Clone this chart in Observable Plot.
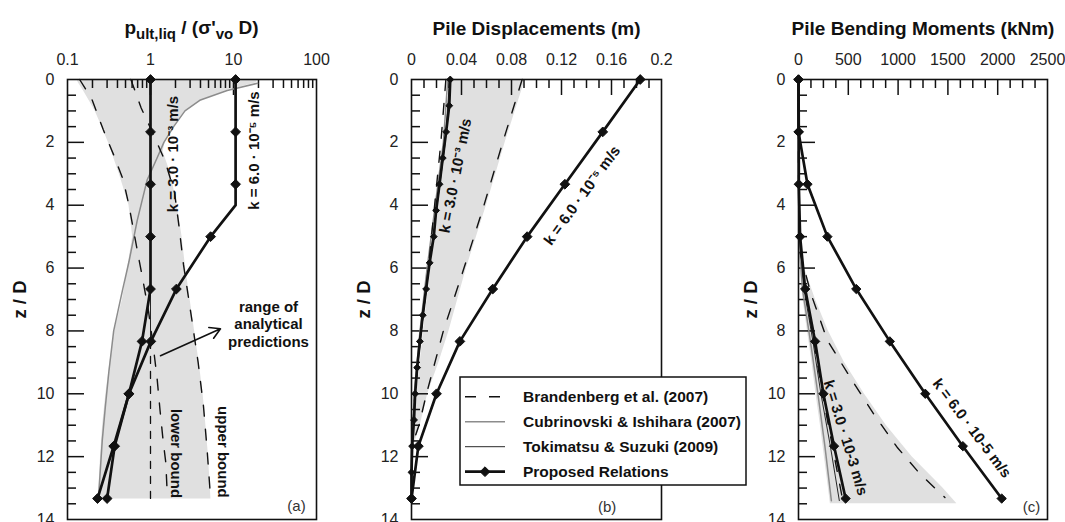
<!DOCTYPE html>
<html>
<head>
<meta charset="utf-8">
<script src="https://cdn.jsdelivr.net/npm/d3@7"></script>
<script src="https://cdn.jsdelivr.net/npm/@observablehq/plot@0.6"></script>
<style>
  body { margin: 0; background: #fff; }
  #figure { position: relative; width: 1065px; height: 522px; overflow: hidden;
            font-family: "Liberation Sans", Arial, Helvetica, sans-serif; }
  .panel { position: absolute; top: 0; }
</style>
</head>
<body>
<div id="figure">
  <div class="panel" id="panel-a" style="left:0px"></div>
  <div class="panel" id="panel-b" style="left:355px"></div>
  <div class="panel" id="panel-c" style="left:710px"></div>
</div>
<script>
// ---------------------------------------------------------------------------
// Data: normalised depth z/D against each quantity
// ---------------------------------------------------------------------------

// depths at which the proposed relations are evaluated
const zProposed = [0, 1.667, 3.333, 5, 6.667, 8.333, 10, 11.667, 13.333];
const zProposedFine = [0, 0.833, 1.667, 2.5, 3.333, 4.167, 5, 5.833, 6.667, 7.5, 8.333,
                       9.167, 10, 10.833, 11.667, 12.5, 13.333];

// (a) normalised ultimate lateral pressure p_ult,liq / (σ'vo D)
const pultK3 = [1, 1, 1, 1, 1, 0.79, 0.55, 0.37, 0.30];              // k = 3.0e-3 m/s
const pultK6Depth = [0, 1.667, 3.333, 4, 5, 6.667, 8.333, 10, 11.667, 13.333];
const pultK6 = [10.6, 10.6, 10.6, 10.6, 5.3, 2.05, 1.01, 0.55, 0.36, 0.23]; // k = 6.0e-5 m/s
const pultK6Marked = [true, true, true, false, true, true, true, true, true, true];

const pultBrandLowDepth = [0, 0.6, 1.6, 2.4, 3.2, 4.0, 4.65, 5.5, 6.3, 7.4, 8.5, 9.5, 10.5, 11.5, 12.2, 13.33];
const pultBrandLow = [0.14, 0.195, 0.27, 0.36, 0.47, 0.55, 0.61, 0.7, 0.8, 0.95, 1.08, 1.2, 1.3, 1.42, 1.53, 1.6];
const pultBrandUpDepth = [0, 0.9, 1.9, 2.6, 3.6, 4.65, 5.9, 7.4, 9.0, 10.4, 11.75, 13.33];
const pultBrandUp = [0.58, 0.77, 1.15, 1.5, 1.95, 2.2, 2.5, 3.05, 3.75, 4.35, 4.8, 5.3];
const pultCubDepth = [0.12, 0.35, 0.65, 1.0, 1.5, 2.0, 2.5, 3.2, 4.5, 5.8, 6.7, 8.0, 9.3, 10.4, 11.5, 13.33];
const pultCub = [19.5, 8.4, 4.0, 2.6, 1.9, 1.45, 1.2, 0.91, 0.69, 0.55, 0.46, 0.36, 0.315, 0.286, 0.262, 0.236];
const pultUnitSolidDepth = [0, 8.333];
const pultUnitDashedDepth = [8.333, 13.4];
const pultUnit = [1, 1];

const pultRangeDepth = [0, 0.1, 0.35, 0.7, 1.0, 1.5, 2.0, 2.3, 3.0, 4.0, 5.0, 6.0, 7.0, 8.0, 9.0, 10.0, 11.0, 12.0, 13.35];
const pultRangeLow = [0.13, 0.135, 0.155, 0.185, 0.215, 0.26, 0.31, 0.34, 0.42, 0.55, 0.61, 0.53, 0.46, 0.37, 0.325, 0.29, 0.265, 0.25, 0.235];
const pultRangeHigh = [19.5, 19, 8.4, 3.9, 2.6, 1.9, 1.5, 1.42, 1.75, 2.1, 2.4, 2.65, 3.0, 3.4, 3.85, 4.3, 4.65, 5.0, 5.35];

// (b) pile displacements (m)
const dispK3 = [0.031, 0.0302, 0.0277, 0.025, 0.0224, 0.0197, 0.0178, 0.0145, 0.0117, 0.009,
                0.0067, 0.0045, 0.0029, 0.002, 0.0005, 0, 0];
const dispK6 = [0.183, 0.153, 0.1227, 0.0925, 0.065, 0.0387, 0.02, 0.0055, 0];
const dispRefDepth = [0, 2, 4, 6, 8, 10, 11.7, 13.4];
const dispToki = [0.0305, 0.027, 0.0205, 0.014, 0.0078, 0.0028, 0.0005, 0];
const dispCub = [0.029, 0.0255, 0.019, 0.0125, 0.0068, 0.0022, 0.0003, 0];
const dispBrandLowDepth = [0, 2, 4, 6, 8, 10, 11.7];
const dispBrandLow = [0.0275, 0.0235, 0.0185, 0.0135, 0.0078, 0.0028, 0];
const dispBrandUpDepth = [0, 2, 4, 6, 8, 10, 11, 11.7];
const dispBrandUp = [0.0885, 0.073, 0.058, 0.042, 0.0255, 0.012, 0.006, 0];
const dispRangeDepth = [0, 2, 4, 6, 8, 9, 10, 11, 11.7];
const dispRangeLow = [0.031, 0.0265, 0.0205, 0.0155, 0.0095, 0.007, 0.004, 0.002, 0.0015];
const dispRangeHigh = [0.091, 0.075, 0.06, 0.044, 0.03, 0.022, 0.013, 0.007, 0.0015];

// (c) pile bending moments (kNm)
const momK3 = [0, 3, 3, 16, 67, 167, 250, 357, 473];
const momK6 = [0, 0, 90, 290, 580, 917, 1273, 1650, 2040];
const momRefDepth = [0, 3, 5, 6.667, 8.333, 10, 11.667, 13.4];
const momToki = [0, 0, 8, 55, 145, 225, 320, 410];
const momCub = [0, 0, 4, 40, 120, 195, 265, 330];
const momBrandLow = [0, 0, 12, 62, 155, 240, 340, 445];
const momBrandUpDepth = [5.5, 6.8, 8.3, 9.5, 10.65, 11.7, 12.56, 13.3];
const momBrandUp = [15, 123, 290, 523, 757, 990, 1223, 1470];
const momRangeDepth = [5.0, 6.0, 7.0, 8.0, 9.0, 10.0, 11.0, 12.0, 13.0, 13.5];
const momRangeLow = [0, 15, 45, 90, 135, 175, 220, 260, 300, 320];
const momRangeHigh = [5, 60, 170, 300, 460, 660, 880, 1140, 1450, 1590];

// tick labels
const zLabels = [0, 2, 4, 6, 8, 10, 12, 14];
const pultLabels = [0.1, 0.3, 1, 3, 10, 30, 100];
const dispLabels = [0, 0.04, 0.08, 0.12, 0.16, 0.2];
const momLabels = [0, 500, 1000, 1500, 2000, 2500];

const legendLabels = ["Brandenberg et al. (2007)", "Cubrinovski & Ishihara (2007)",
                      "Tokimatsu & Suzuki (2009)", "Proposed Relations"];

// ---------------------------------------------------------------------------
// Styles and helpers
// ---------------------------------------------------------------------------
const INK = "#111";
const FILL = "#e0e0e0";
const GREY_LINE = "#8c8c8c";
const FONT = '"Liberation Sans", Arial, Helvetica, sans-serif';
const W = 355, H = 522, MT = 79, MB = 3;

const styles = {
  brandenberg: {stroke: INK, strokeWidth: 1.4, strokeDasharray: "11,13"},
  cubrinovski: {stroke: GREY_LINE, strokeWidth: 1.5},
  tokimatsu: {stroke: INK, strokeWidth: 0.9},
  proposed: {stroke: INK, strokeWidth: 2.7},
  unitDashed: {stroke: INK, strokeWidth: 1.3, strokeDasharray: "7,8"}
};

const pts = (z, v) => z.map((d, i) => ({z: d, v: v[i]}));
const band = (z, lo, hi) => z.map((d, i) => ({z: d, lo: lo[i], hi: hi[i]}));
const curve = (data, style) => Plot.line(data, {x: "v", y: "z", strokeLinejoin: "round", ...style});
const diamonds = (data, r) => Plot.dot(data, {x: "v", y: "z", symbol: "diamond2", r, fill: INK, stroke: INK, strokeWidth: 1});
const range = (data) => Plot.areaX(data, {y: "z", x1: "lo", x2: "hi", fill: FILL});
const note = (x, z, t, opts = {}) =>
  Plot.text([{x, z, t}], {x: "x", y: "z", text: "t", fill: INK, fontWeight: "bold", fontSize: 15, ...opts});

const zMinor = d3.range(0.5, 14, 0.5).filter(d => d % 2 !== 0);
const zMajor = [2, 4, 6, 8, 10, 12];

function panel({x, mL, mR, xMajor, xMinor, xFormat, xLabels, title, under, over}) {
  const fw = W - mL - mR, fh = H - MT - MB;
  const tick = {stroke: INK, strokeWidth: 1.5};
  return Plot.plot({
    width: W, height: H,
    marginTop: MT, marginBottom: MB, marginLeft: mL, marginRight: mR,
    x, y: {domain: [0, 14], reverse: true},
    style: {fontFamily: FONT, fontSize: "16px", color: "#222", background: "transparent", overflow: "visible"},
    marks: [
      ...under,
      Plot.tickX(xMajor, {x: d => d, ...tick, insetBottom: fh - 16}),
      Plot.tickX(xMinor, {x: d => d, ...tick, insetBottom: fh - 9}),
      Plot.tickY(zMajor, {y: d => d, ...tick, insetRight: fw - 17}),
      Plot.tickY(zMinor, {y: d => d, ...tick, insetRight: fw - 9}),
      ...over,
      Plot.axisX(xLabels, {anchor: "top", tickSize: 0, tickPadding: 15, tickFormat: xFormat, label: null}),
      Plot.axisY(zLabels, {anchor: "left", tickSize: 0, tickPadding: 13, label: null}),
      Plot.frame({stroke: INK, strokeWidth: 1.6}),
      title ? Plot.text([title], {frameAnchor: "top", dy: -51, lineAnchor: "middle", textAnchor: "middle",
                                  fontWeight: "bold", fontSize: 19, fill: INK}) : null,
      Plot.text(["z / D"], {frameAnchor: "left", dx: -47, rotate: -90, textAnchor: "middle", lineAnchor: "middle",
                            fontWeight: "bold", fontSize: 18.5, fill: INK})
    ]
  });
}

// ---------------------------------------------------------------------------
// (a) ultimate lateral pressure
// ---------------------------------------------------------------------------
const k6a = pultK6Depth.map((z, i) => ({z, v: pultK6[i], marked: pultK6Marked[i]}));
const logMinor = [0.2, 0.3, 0.4, 0.5, 0.6, 0.7, 0.8, 0.9, 2, 3, 4, 5, 6, 7, 8, 9,
                  20, 30, 40, 50, 60, 70, 80, 90];

const plotA = panel({
  x: {type: "log", domain: [0.1, 100]},
  mL: 67, mR: 39,
  xMajor: [1, 10], xMinor: logMinor,
  xLabels: pultLabels, xFormat: d => String(d),
  title: null,
  under: [range(band(pultRangeDepth, pultRangeLow, pultRangeHigh))],
  over: [
    curve(pts(pultCubDepth, pultCub), styles.cubrinovski),
    curve(pts(pultBrandLowDepth, pultBrandLow), styles.brandenberg),
    curve(pts(pultBrandUpDepth, pultBrandUp), styles.brandenberg),
    curve(pts(pultUnitSolidDepth, pultUnit), styles.tokimatsu),
    curve(pts(pultUnitDashedDepth, pultUnit), styles.unitDashed),
    curve(pts(zProposed, pultK3), styles.proposed),
    curve(k6a, styles.proposed),
    diamonds(pts(zProposed, pultK3), 4.4),
    diamonds(k6a.filter(d => d.marked), 4.4),
    note(1.87, 2.37, "k = 3.0 · 10⁻³ m/s", {rotate: -90}),
    note(17.6, 2.26, "k = 6.0 · 10⁻⁵ m/s", {rotate: -90}),
    note(26.4, 7.77, "range of\nanalytical\npredictions", {lineHeight: 1.17}),
    note(2.0, 11.9, "lower bound", {rotate: 90}),
    note(7.37, 11.85, "upper bound", {rotate: 90}),
    note(57.4, 13.57, "(a)", {fontWeight: "normal", fontSize: 15, fill: "#333"}),
    Plot.arrow([{x1: 1.32, y1: 8.79, x2: 6.97, y2: 7.93}],
      {x1: "x1", y1: "y1", x2: "x2", y2: "y2", stroke: INK, strokeWidth: 1.6, headLength: 11})
  ]
});
document.getElementById("panel-a").append(plotA);

// title with subscripts, centred over the frame
{
  const [r0, r1] = plotA.scale("x").range;
  const t = d3.select(plotA).append("text")
    .attr("x", (r0 + r1) / 2).attr("y", 34)
    .attr("text-anchor", "middle").attr("font-weight", "bold")
    .attr("font-size", 19).attr("fill", INK).attr("font-family", FONT);
  t.append("tspan").text("p");
  t.append("tspan").attr("font-size", 15).attr("dy", 5).text("ult,liq");
  t.append("tspan").attr("dy", -5).text(" / (σ'");
  t.append("tspan").attr("font-size", 15).attr("dy", 5).text("vo");
  t.append("tspan").attr("dy", -5).text(" D)");
}

// ---------------------------------------------------------------------------
// (b) pile displacements
// ---------------------------------------------------------------------------
const plotB = panel({
  x: {domain: [0, 0.2]},
  mL: 56, mR: 49,
  xMajor: [0.04, 0.08, 0.12, 0.16],
  xMinor: [0.01, 0.02, 0.03, 0.05, 0.06, 0.07, 0.09, 0.1, 0.11, 0.13, 0.14, 0.15, 0.17, 0.18, 0.19],
  xLabels: dispLabels, xFormat: d => String(d),
  title: "Pile Displacements (m)",
  under: [range(band(dispRangeDepth, dispRangeLow, dispRangeHigh))],
  over: [
    curve(pts(dispRefDepth, dispCub), styles.cubrinovski),
    curve(pts(dispRefDepth, dispToki), styles.tokimatsu),
    curve(pts(dispBrandLowDepth, dispBrandLow), styles.brandenberg),
    curve(pts(dispBrandUpDepth, dispBrandUp), styles.brandenberg),
    curve(pts(zProposedFine, dispK3), styles.proposed),
    curve(pts(zProposed, dispK6), styles.proposed),
    diamonds(pts(zProposedFine, dispK3), 3.1),
    diamonds(pts(zProposed, dispK6), 4.4),
    note(0.0352, 3.06, "k = 3.0 · 10⁻³ m/s", {rotate: -79}),
    note(0.1365, 3.69, "k = 6.0 · 10⁻⁵ m/s", {rotate: -54}),
    note(0.1565, 13.62, "(b)", {fontWeight: "normal", fontSize: 15, fill: "#333"})
  ]
});
document.getElementById("panel-b").append(plotB);

// ---------------------------------------------------------------------------
// (c) pile bending moments
// ---------------------------------------------------------------------------
const plotC = panel({
  x: {domain: [0, 2500]},
  mL: 88, mR: 18,
  xMajor: [500, 1000, 1500, 2000],
  xMinor: d3.range(125, 2500, 125).filter(d => d % 500 !== 0),
  xLabels: momLabels, xFormat: d => String(d),
  title: "Pile Bending Moments (kNm)",
  under: [range(band(momRangeDepth, momRangeLow, momRangeHigh))],
  over: [
    curve(pts(momRefDepth, momCub), styles.cubrinovski),
    curve(pts(momRefDepth, momToki), styles.tokimatsu),
    curve(pts(momRefDepth, momBrandLow), styles.brandenberg),
    curve(pts(momBrandUpDepth, momBrandUp), styles.brandenberg),
    curve(pts(zProposed, momK3), styles.proposed),
    curve(pts(zProposed, momK6), styles.proposed),
    diamonds(pts(zProposed, momK3), 4.2),
    diamonds(pts(zProposed, momK6), 4.2),
    note(473, 11.4, "k = 3.0 · 10-3 m/s", {rotate: 73}),
    note(1740, 11.1, "k = 6.0 · 10-5 m/s", {rotate: 53}),
    note(2340, 13.6, "(c)", {fontWeight: "normal", fontSize: 15, fill: "#333"})
  ]
});
document.getElementById("panel-c").append(plotC);

// ---------------------------------------------------------------------------
// Shared legend, overlapping panels (b) and (c)
// ---------------------------------------------------------------------------
{
  const keys = ["brandenberg", "cubrinovski", "tokimatsu", "proposed"];
  const lg = d3.select("#figure").append("svg")
    .attr("width", 288).attr("height", 110)
    .style("position", "absolute").style("left", "459px").style("top", "376px")
    .style("z-index", 5);
  lg.append("rect").attr("x", 1).attr("y", 1).attr("width", 286).attr("height", 108)
    .attr("fill", "#fff").attr("stroke", INK).attr("stroke-width", 1.5);
  keys.forEach((k, i) => {
    const y = 20.7 + 25 * i, s = styles[k];
    lg.append("line").attr("x1", 6).attr("x2", 46).attr("y1", y).attr("y2", y)
      .attr("stroke", s.stroke).attr("stroke-width", s.strokeWidth)
      .attr("stroke-dasharray", s.strokeDasharray || null);
    if (k === "proposed") {
      lg.append("path").attr("d", d3.symbol(d3.symbolDiamond2, Math.PI * 4.4 * 4.4)())
        .attr("transform", `translate(26,${y})`).attr("fill", INK).attr("stroke", INK);
    }
    lg.append("text").attr("x", 64).attr("y", y).attr("dy", "0.35em")
      .attr("font-family", FONT).attr("font-weight", "bold").attr("font-size", 15.5)
      .attr("fill", INK).text(legendLabels[i]);
  });
}
</script>
</body>
</html>
